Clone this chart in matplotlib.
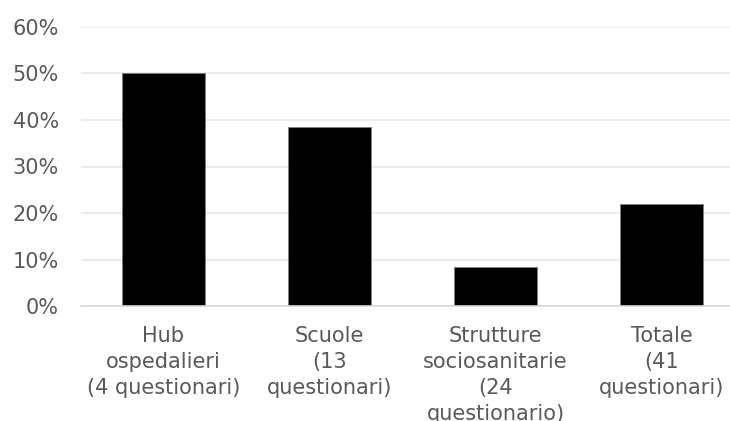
import matplotlib
matplotlib.use("Agg")
import matplotlib.pyplot as plt
from matplotlib.ticker import PercentFormatter

categories = [
    "Hub\nospedalieri\n(4 questionari)",
    "Scuole\n(13\nquestionari)",
    "Strutture\nsociosanitarie\n(24\nquestionario)",
    "Totale\n(41\nquestionari)",
]
values = [50.0, 38.46, 8.33, 21.95]
yticks = [0, 10, 20, 30, 40, 50, 60]

text_color = "#595959"
fig = plt.figure(figsize=(7.30, 4.21), dpi=100)
ax = fig.add_axes([80.5 / 730, 1 - 306 / 421, 664 / 730, (306 - 27) / 421])

ax.bar(range(len(values)), values, width=0.5, color="black",
       edgecolor="#7f7f7f", linewidth=0.6, zorder=3)

ax.set_xlim(-0.5, len(values) - 0.5)
ax.set_ylim(0, 60)
ax.set_yticks(yticks)
ax.yaxis.set_major_formatter(PercentFormatter(decimals=0))
ax.grid(axis="y", color="#ececec", linewidth=1.5, zorder=0)
ax.set_axisbelow(True)

for s in ["top", "right", "left"]:
    ax.spines[s].set_visible(False)
ax.spines["bottom"].set_color("#d9d9d9")
ax.spines["bottom"].set_linewidth(1.2)
ax.spines["bottom"].set_zorder(4)

ax.set_xticks(range(len(categories)))
ax.set_xticklabels(categories, linespacing=1.37)
ax.tick_params(axis="both", length=0, labelsize=15, colors=text_color)
ax.tick_params(axis="y", pad=15.5)
ax.tick_params(axis="x", pad=14.5)

fig.savefig("out.png", dpi=100)
